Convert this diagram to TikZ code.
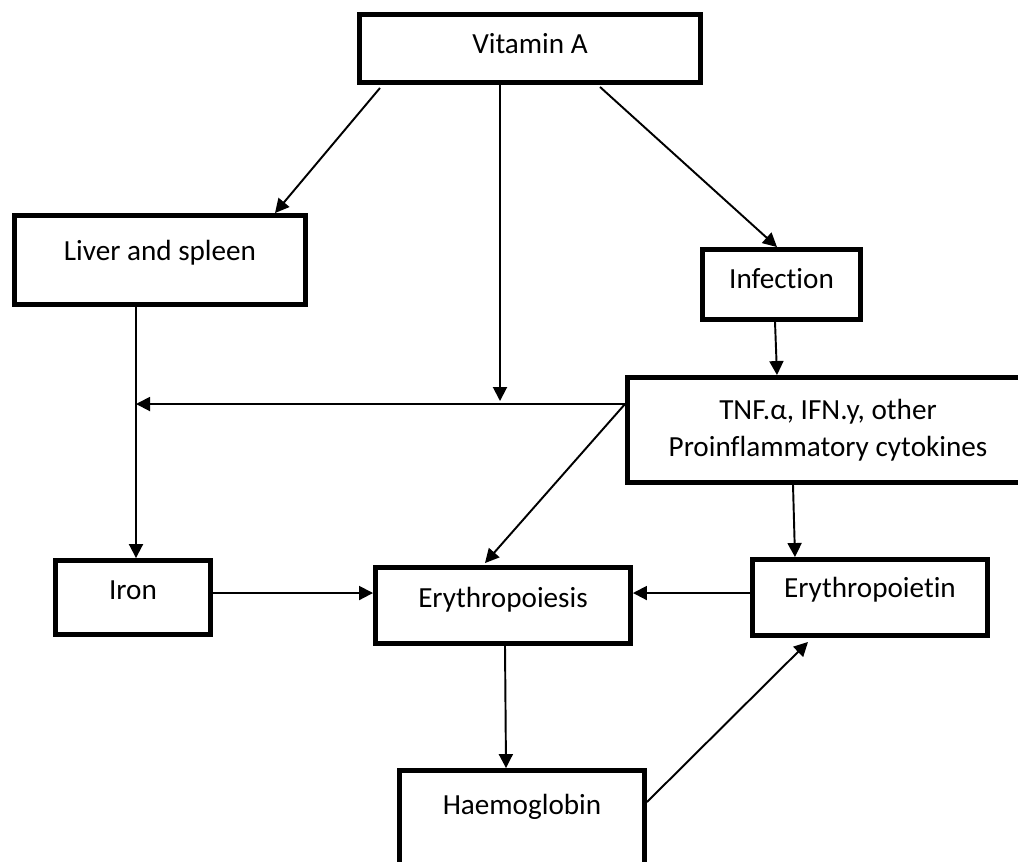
\documentclass[tikz,border=0pt]{standalone}
\usepackage{fontspec}
\setmainfont[Ligatures=NoCommon]{Carlito}
\usetikzlibrary{arrows.meta, calc, positioning}

\begin{document}
\begin{tikzpicture}[
		box/.style={
			draw,
			line width=2.8pt,
			inner sep=0pt,
			font=\fontsize{16.6}{21}\selectfont,
			align=center,
			anchor=center,
		}, oneline/.style={
			text height=10.8pt,
			text depth=#1,
		}, link/.style={
			-{Triangle[length=0.28cm, width=0.28cm]},
			line width=1.1pt,
		}, ]

\useasboundingbox (0,0) rectangle (20.36,-17.22);

% ------ Boxes ------- %
\draw
(10.60,-0.97) node[box, oneline=5.6pt, minimum width=6.82cm, minimum height=1.36cm](vitamin_a){Vitamin A}
(3.20,-5.20) node[box, oneline=10.8pt, minimum width=5.82cm, minimum height=1.78cm](liver_spleen){Liver and spleen}
(15.63,-5.69) node[box, oneline=6.8pt, minimum width=3.16cm, minimum height=1.40cm](infection){Infection}
(16.56,-8.60) node[box, minimum width=8.02cm, minimum height=2.10cm](cytokines){TNF.α, IFN.y, other\\Proinflammatory cytokines}
(2.66,-11.95) node[box, oneline=9.1pt, minimum width=3.10cm, minimum height=1.48cm](iron){Iron}
(10.06,-12.11) node[box, oneline=9.1pt, minimum width=5.10cm, minimum height=1.52cm](erythropoiesis){Erythropoiesis}
(17.40,-11.95) node[box, oneline=10.3pt, minimum width=4.70cm, minimum height=1.52cm](erythropoietin){Erythropoietin}
(10.44,-16.38) node[box, oneline=16.4pt, minimum width=4.90cm, minimum height=1.94cm](haemoglobin){Haemoglobin}
;

% ------ Helper points ------- %
\coordinate (cyt_out) at ([yshift=0.52cm]cytokines.west);
\coordinate (liver_out) at ([xshift=-0.48cm]liver_spleen.south);
\coordinate (vit_out) at ([xshift=-0.6cm]vitamin_a.south);
\coordinate (vit_stop) at (vit_out |- cyt_out);

% ------ Arrows ------- %
\draw [link] ([xshift=-3.0cm, yshift=-0.06cm]vitamin_a.south) -- ([xshift=2.3cm]liver_spleen.north);
\draw [link] (vit_out) -- ([yshift=0.06cm]vit_stop);
\draw [link] ([xshift=1.4cm, yshift=-0.04cm]vitamin_a.south) -- ([xshift=-0.09cm]infection.north);
\draw [link] (liver_out) -- (liver_out |- iron.north);
\draw [link] ([xshift=-0.13cm]infection.south) -- ([xshift=-1.02cm]cytokines.north);
\draw [link] (cyt_out) -- (cyt_out -| liver_out);
\draw [link] (cyt_out) -- ([xshift=-0.36cm, yshift=0.04cm]erythropoiesis.north);
\draw [link] ([xshift=-0.7cm]cytokines.south) -- ([xshift=-1.5cm]erythropoietin.north);
\draw [link] ([yshift=0.09cm]iron.east) -- ([yshift=0.25cm]erythropoiesis.west);
\draw [link] ([yshift=0.09cm]erythropoietin.west) -- ([yshift=0.25cm]erythropoiesis.east);
\draw [link] ([xshift=0.04cm]erythropoiesis.south) -- ([xshift=-0.32cm]haemoglobin.north);
\draw [link] ([yshift=0.34cm]haemoglobin.east) -- ([xshift=-1.24cm, yshift=-0.08cm]erythropoietin.south);

\end{tikzpicture}
\end{document}
